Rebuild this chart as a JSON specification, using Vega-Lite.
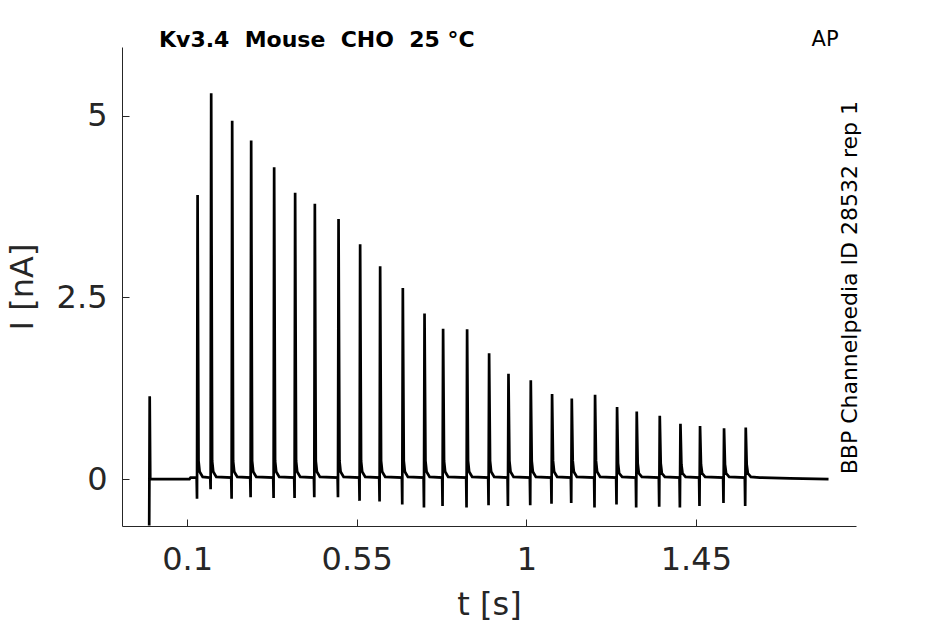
{
  "$schema": "https://vega.github.io/schema/vega-lite/v6.json",
  "description": "Kv3.4 AP current trace",
  "autosize": {"type": "none"},
  "padding": {"left": 122, "top": 47, "right": 89, "bottom": 98},
  "width": 734,
  "height": 479,
  "background": "white",
  "config": {
    "view": {"stroke": null},
    "font": "DejaVu Sans",
    "axis": {
      "grid": false,
      "domainColor": "#262626",
      "tickColor": "#262626",
      "labelColor": "#262626",
      "titleColor": "#262626",
      "labelFont": "DejaVu Sans",
      "titleFont": "DejaVu Sans",
      "labelFontSize": 32,
      "titleFontSize": 32,
      "titleFontWeight": "normal",
      "tickSize": -7,
      "labelFlush": false,
      "labelOverlap": false,
      "labelExpr": "'' + datum.value"
    }
  },
  "layer": [
    {
      "data": {
        "values": [
          {"t": -0.0008, "I": -0.64}, {"t": 0.0005, "I": 1.14}, {"t": 0.002, "I": 0.0},
          {"t": 0.106, "I": 0.0}, {"t": 0.109, "I": 0.02},
          {"t": 0.1251, "I": 0.02}, {"t": 0.1261, "I": -0.27}, {"t": 0.1276, "I": 3.91}, {"t": 0.1301, "I": 0.25}, {"t": 0.1331, "I": 0.1}, {"t": 0.1411, "I": 0.03},
          {"t": 0.1612, "I": 0.02}, {"t": 0.1622, "I": -0.14}, {"t": 0.1637, "I": 5.31}, {"t": 0.1662, "I": 0.25}, {"t": 0.1692, "I": 0.1}, {"t": 0.1772, "I": 0.03},
          {"t": 0.2169, "I": 0.02}, {"t": 0.2179, "I": -0.27}, {"t": 0.2194, "I": 4.93}, {"t": 0.2219, "I": 0.25}, {"t": 0.2249, "I": 0.1}, {"t": 0.2329, "I": 0.03},
          {"t": 0.2673, "I": 0.02}, {"t": 0.2683, "I": -0.25}, {"t": 0.2698, "I": 4.66}, {"t": 0.2723, "I": 0.25}, {"t": 0.2753, "I": 0.1}, {"t": 0.2833, "I": 0.03},
          {"t": 0.3283, "I": 0.02}, {"t": 0.3293, "I": -0.26}, {"t": 0.3308, "I": 4.29}, {"t": 0.3333, "I": 0.25}, {"t": 0.3363, "I": 0.1}, {"t": 0.3443, "I": 0.03},
          {"t": 0.384, "I": 0.02}, {"t": 0.385, "I": -0.26}, {"t": 0.3865, "I": 3.94}, {"t": 0.389, "I": 0.25}, {"t": 0.392, "I": 0.1}, {"t": 0.4, "I": 0.03},
          {"t": 0.4363, "I": 0.02}, {"t": 0.4373, "I": -0.25}, {"t": 0.4388, "I": 3.79}, {"t": 0.4413, "I": 0.25}, {"t": 0.4443, "I": 0.1}, {"t": 0.4523, "I": 0.03},
          {"t": 0.4992, "I": 0.02}, {"t": 0.5002, "I": -0.25}, {"t": 0.5017, "I": 3.58}, {"t": 0.5042, "I": 0.25}, {"t": 0.5072, "I": 0.1}, {"t": 0.5152, "I": 0.03},
          {"t": 0.5565, "I": 0.02}, {"t": 0.5575, "I": -0.3}, {"t": 0.559, "I": 3.23}, {"t": 0.5615, "I": 0.25}, {"t": 0.5645, "I": 0.1}, {"t": 0.5725, "I": 0.03},
          {"t": 0.6096, "I": 0.02}, {"t": 0.6106, "I": -0.31}, {"t": 0.6121, "I": 2.93}, {"t": 0.6146, "I": 0.25}, {"t": 0.6176, "I": 0.1}, {"t": 0.6256, "I": 0.03},
          {"t": 0.6698, "I": 0.02}, {"t": 0.6708, "I": -0.35}, {"t": 0.6723, "I": 2.63}, {"t": 0.6748, "I": 0.25}, {"t": 0.6778, "I": 0.1}, {"t": 0.6858, "I": 0.03},
          {"t": 0.7274, "I": 0.02}, {"t": 0.7284, "I": -0.39}, {"t": 0.7299, "I": 2.28}, {"t": 0.7324, "I": 0.25}, {"t": 0.7354, "I": 0.1}, {"t": 0.7434, "I": 0.03},
          {"t": 0.7767, "I": 0.02}, {"t": 0.7777, "I": -0.37}, {"t": 0.7792, "I": 2.07}, {"t": 0.7817, "I": 0.25}, {"t": 0.7847, "I": 0.1}, {"t": 0.7927, "I": 0.03},
          {"t": 0.8404, "I": 0.02}, {"t": 0.8414, "I": -0.39}, {"t": 0.8429, "I": 2.06}, {"t": 0.8454, "I": 0.25}, {"t": 0.8484, "I": 0.1}, {"t": 0.8564, "I": 0.03},
          {"t": 0.8988, "I": 0.02}, {"t": 0.8998, "I": -0.36}, {"t": 0.9013, "I": 1.73}, {"t": 0.9038, "I": 0.25}, {"t": 0.9068, "I": 0.1}, {"t": 0.9148, "I": 0.03},
          {"t": 0.9502, "I": 0.02}, {"t": 0.9512, "I": -0.37}, {"t": 0.9527, "I": 1.45}, {"t": 0.9552, "I": 0.25}, {"t": 0.9582, "I": 0.1}, {"t": 0.9662, "I": 0.03},
          {"t": 1.0094, "I": 0.02}, {"t": 1.0104, "I": -0.36}, {"t": 1.0119, "I": 1.36}, {"t": 1.0144, "I": 0.25}, {"t": 1.0174, "I": 0.1}, {"t": 1.0254, "I": 0.03},
          {"t": 1.0659, "I": 0.02}, {"t": 1.0669, "I": -0.34}, {"t": 1.0684, "I": 1.17}, {"t": 1.0709, "I": 0.25}, {"t": 1.0739, "I": 0.1}, {"t": 1.0819, "I": 0.03},
          {"t": 1.1182, "I": 0.02}, {"t": 1.1192, "I": -0.33}, {"t": 1.1207, "I": 1.11}, {"t": 1.1232, "I": 0.25}, {"t": 1.1262, "I": 0.1}, {"t": 1.1342, "I": 0.03},
          {"t": 1.18, "I": 0.02}, {"t": 1.181, "I": -0.39}, {"t": 1.1825, "I": 1.16}, {"t": 1.185, "I": 0.25}, {"t": 1.188, "I": 0.1}, {"t": 1.196, "I": 0.03},
          {"t": 1.2384, "I": 0.02}, {"t": 1.2394, "I": -0.35}, {"t": 1.2409, "I": 0.99}, {"t": 1.2434, "I": 0.22}, {"t": 1.2464, "I": 0.08}, {"t": 1.2544, "I": 0.03},
          {"t": 1.2906, "I": 0.02}, {"t": 1.2916, "I": -0.39}, {"t": 1.2931, "I": 0.93}, {"t": 1.2956, "I": 0.22}, {"t": 1.2986, "I": 0.08}, {"t": 1.3066, "I": 0.03},
          {"t": 1.3517, "I": 0.02}, {"t": 1.3527, "I": -0.38}, {"t": 1.3542, "I": 0.87}, {"t": 1.3567, "I": 0.22}, {"t": 1.3597, "I": 0.08}, {"t": 1.3677, "I": 0.03},
          {"t": 1.4066, "I": 0.02}, {"t": 1.4076, "I": -0.39}, {"t": 1.4091, "I": 0.76}, {"t": 1.4116, "I": 0.2}, {"t": 1.4146, "I": 0.08}, {"t": 1.4226, "I": 0.03},
          {"t": 1.4586, "I": 0.02}, {"t": 1.4596, "I": -0.37}, {"t": 1.4611, "I": 0.73}, {"t": 1.4636, "I": 0.2}, {"t": 1.4666, "I": 0.08}, {"t": 1.4746, "I": 0.03},
          {"t": 1.5223, "I": 0.02}, {"t": 1.5233, "I": -0.33}, {"t": 1.5248, "I": 0.7}, {"t": 1.5273, "I": 0.2}, {"t": 1.5303, "I": 0.08}, {"t": 1.5383, "I": 0.03},
          {"t": 1.5799, "I": 0.02}, {"t": 1.5809, "I": -0.37}, {"t": 1.5824, "I": 0.71}, {"t": 1.5849, "I": 0.2}, {"t": 1.5879, "I": 0.08}, {"t": 1.5959, "I": 0.03},
          {"t": 1.62, "I": 0.02}, {"t": 1.7, "I": 0.01}, {"t": 1.8021, "I": 0.0}
        ]
      },
      "mark": {"type": "line", "color": "black", "strokeWidth": 2.7, "clip": true},
      "encoding": {
        "x": {
          "field": "t",
          "type": "quantitative",
          "scale": {"domain": [-0.073, 1.875], "nice": false, "zero": false},
          "axis": {"values": [0.1, 0.55, 1, 1.45], "title": "t [s]", "labelPadding": 25, "titlePadding": 14}
        },
        "y": {
          "field": "I",
          "type": "quantitative",
          "scale": {"domain": [-0.646, 5.946], "nice": false, "zero": false},
          "axis": {"values": [0, 2.5, 5], "title": "I [nA]", "labelPadding": 22, "titlePadding": 17}
        }
      }
    },
    {
      "data": {"values": [{"label": "Kv3.4\u00a0 Mouse\u00a0 CHO\u00a0 25 °C"}]},
      "mark": {"type": "text", "align": "left", "baseline": "middle", "fontWeight": "bold", "fontSize": 22, "color": "black"},
      "encoding": {"x": {"datum": 0.0252}, "y": {"datum": 6.045}, "text": {"field": "label"}}
    },
    {
      "data": {"values": [{"label": "AP"}]},
      "mark": {"type": "text", "align": "center", "baseline": "middle", "fontSize": 21, "color": "black"},
      "encoding": {"x": {"datum": 1.7928}, "y": {"datum": 6.045}, "text": {"field": "label"}}
    },
    {
      "data": {"values": [{"label": "BBP Channelpedia ID 28532 rep 1"}]},
      "mark": {"type": "text", "align": "center", "baseline": "middle", "angle": 270, "fontSize": 22, "color": "black"},
      "encoding": {"x": {"datum": 1.8578}, "y": {"datum": 2.634}, "text": {"field": "label"}}
    }
  ]
}
